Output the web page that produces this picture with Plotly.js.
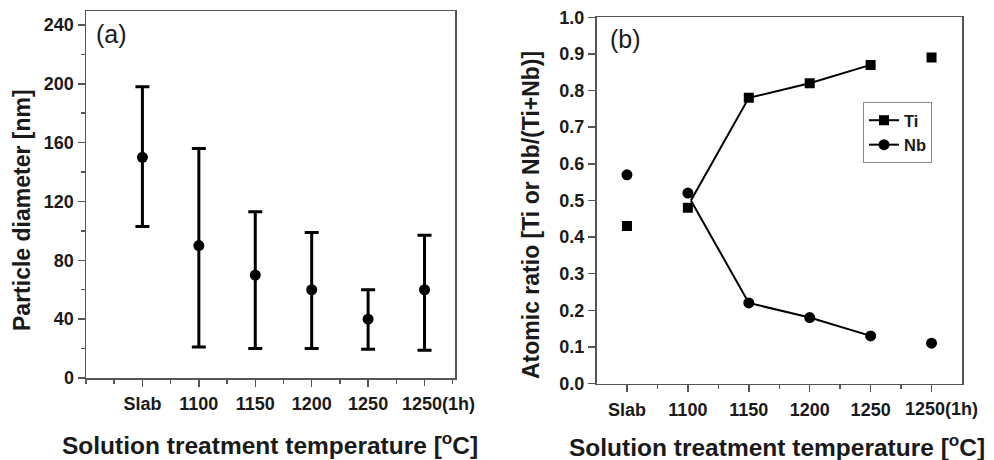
<!DOCTYPE html>
<html>
<head>
<meta charset="utf-8">
<script src="https://cdn.plot.ly/plotly-3.0.1.min.js"></script>
<style>html,body{margin:0;padding:0;background:#fff;}#chart{width:994px;height:460px;}</style>
</head>
<body>
<div id="chart"></div>
<script>
// Categories
var categories = ['Slab', '1100', '1150', '1200', '1250', '1250(1h)'];
var catPos = [1, 2, 3, 4, 5, 6];

// Panel (a): particle diameter [nm]
var diaMean  = [150, 90, 70, 60, 40, 60];
var diaUpper = [198, 156, 113, 99, 60, 97];
var diaLower = [103, 21, 20, 20, 19.5, 18.8];

// Panel (b): atomic ratio
var tiRatio = [0.43, 0.48, 0.78, 0.82, 0.87, 0.89];
var nbRatio = [0.57, 0.52, 0.22, 0.18, 0.13, 0.11];
// connecting lines (drawn from 1100 onwards, meeting near 0.5)
var lineX   = [2.05, 3, 4, 5];
var tiLineY = [0.50, 0.78, 0.82, 0.87];
var nbLineY = [0.50, 0.22, 0.18, 0.13];

var FONT = 'Liberation Sans, Arial, Helvetica, sans-serif';
var TXT = '#1a1a1a';
var AX = '#555555';
var W = 994, H = 460;

var errPlus = diaUpper.map(function(u, i){ return u - diaMean[i]; });
var errMinus = diaMean.map(function(m, i){ return m - diaLower[i]; });

var nCat = categories.length;
var firstPos = catPos.slice(0, nCat - 1), firstLab = categories.slice(0, nCat - 1);
var lastPos = catPos.slice(nCat - 1), lastLab = categories.slice(nCat - 1);

var traces = [
  {
    x: catPos, y: diaMean, xaxis: 'x', yaxis: 'y',
    type: 'scatter', mode: 'markers', showlegend: false,
    marker: {symbol: 'circle', size: 11, color: '#000'},
    error_y: {type: 'data', symmetric: false, array: errPlus, arrayminus: errMinus,
              color: '#000', thickness: 3, width: 7}
  },
  {
    x: lineX, y: tiLineY, xaxis: 'x2', yaxis: 'y2', type: 'scatter', mode: 'lines',
    showlegend: false, line: {color: '#000', width: 2}
  },
  {
    x: lineX, y: nbLineY, xaxis: 'x2', yaxis: 'y2', type: 'scatter', mode: 'lines',
    showlegend: false, line: {color: '#000', width: 2}
  },
  {
    x: catPos, y: tiRatio, xaxis: 'x2', yaxis: 'y2', type: 'scatter', mode: 'markers',
    showlegend: false, marker: {symbol: 'square', size: 10, color: '#000'}
  },
  {
    x: catPos, y: nbRatio, xaxis: 'x2', yaxis: 'y2', type: 'scatter', mode: 'markers',
    showlegend: false, marker: {symbol: 'circle', size: 11, color: '#000'}
  },
  {
    x: [null], y: [null], xaxis: 'x2', yaxis: 'y2', type: 'scatter', mode: 'lines+markers',
    name: 'Ti', line: {color: '#000', width: 2}, marker: {symbol: 'square', size: 10, color: '#000'}
  },
  {
    x: [null], y: [null], xaxis: 'x2', yaxis: 'y2', type: 'scatter', mode: 'lines+markers',
    name: 'Nb', line: {color: '#000', width: 2}, marker: {symbol: 'circle', size: 11, color: '#000'}
  },
  // carriers so the overlay label axes are drawn
  {
    x: lastPos, y: [null], xaxis: 'x3', yaxis: 'y', type: 'scatter', mode: 'markers',
    showlegend: false, hoverinfo: 'skip', marker: {opacity: 0}
  },
  {
    x: lastPos, y: [null], xaxis: 'x4', yaxis: 'y2', type: 'scatter', mode: 'markers',
    showlegend: false, hoverinfo: 'skip', marker: {opacity: 0}
  }
];

var tickFont = {family: FONT, size: 18, color: TXT, weight: 'bold'};
function xAxis(domain, range, majors, labels, minors, anchor) {
  return {
    domain: domain, range: range, anchor: anchor, tickmode: 'array',
    tickvals: majors, ticktext: labels, tickangle: 0,
    ticks: 'outside', ticklen: 7, tickwidth: 1.5, tickcolor: AX,
    showline: true, linecolor: AX, linewidth: 1.5, mirror: true, showgrid: false, zeroline: false,
    tickfont: tickFont, ticklabelstandoff: 2,
    minor: {tickmode: 'array', tickvals: minors, ticks: 'outside', ticklen: 4, tickwidth: 1.5, tickcolor: AX, showgrid: false}
  };
}
// overlay axis carrying only the last category label ("1250" over its tick, "(1h)" trailing)
function xOverlay(over, range, anchor, shift) {
  return {
    overlaying: over, anchor: anchor, side: 'bottom', range: range, autorange: false,
    tickmode: 'array', tickvals: lastPos, ticktext: lastLab, tickangle: 0,
    ticks: 'outside', ticklen: 7, tickwidth: 1.5, tickcolor: AX,
    showline: false, showgrid: false, zeroline: false, showticklabels: true,
    tickfont: tickFont, ticklabelstandoff: 2, ticklabelshift: shift
  };
}
function yAxis(domain, range, dtick, fmt, minorDtick, anchor) {
  var a = {
    domain: domain, range: range, anchor: anchor, tickmode: 'linear', tick0: 0, dtick: dtick,
    tickformat: fmt, ticks: 'outside', ticklen: 7, tickwidth: 1.5, tickcolor: AX,
    showline: true, linecolor: AX, linewidth: 1.5, mirror: true, showgrid: false, zeroline: false,
    tickfont: tickFont
  };
  if (minorDtick) {
    a.minor = {tickmode: 'linear', tick0: 0, dtick: minorDtick, ticks: 'outside', ticklen: 4, tickwidth: 1.5, tickcolor: AX, showgrid: false};
  }
  return a;
}

function px(x){ return x / W; }
function py(y){ return 1 - y / H; }

var xTitleFont = {family: FONT, size: 24.5, color: TXT, weight: 'bold'};
var yTitleFont = {family: FONT, size: 23, color: TXT, weight: 'bold'};
var xTitle = 'Solution treatment temperature [<sup>o</sup>C]';
var rangeA = [0, 6.54], rangeB = [0.5, 6.5];

var layout = {
  width: W, height: H,
  margin: {l: 0, r: 0, t: 0, b: 0},
  paper_bgcolor: '#fff', plot_bgcolor: '#fff',
  font: {family: FONT, color: TXT},
  xaxis: xAxis([px(86), px(455)], rangeA, firstPos, firstLab,
               [0, 0.5, 1.5, 2.5, 3.5, 4.5, 5.5, 6.5], 'y'),
  yaxis: yAxis([py(378), py(11)], [0, 249.5], 40, 'd', 20, 'x'),
  xaxis2: xAxis([px(596.5), px(962)], rangeB, firstPos, firstLab,
                [1.5, 2.5, 3.5, 4.5, 5.5], 'y2'),
  yaxis2: yAxis([py(383.5), py(17.3)], [0, 1], 0.1, '.1f', null, 'x2'),
  xaxis3: xOverlay('x', rangeA, 'y', 14),
  xaxis4: xOverlay('x2', rangeB, 'y2', 10),
  showlegend: true,
  legend: {
    x: px(863), y: py(102), xanchor: 'left', yanchor: 'top',
    bgcolor: '#fff', bordercolor: '#888', borderwidth: 1,
    font: {family: FONT, size: 16.5, color: TXT, weight: 'bold'},
    tracegroupgap: 0, itemwidth: 30
  },
  annotations: [
    {xref: 'paper', yref: 'paper', x: px(270), y: py(443), xanchor: 'center', yanchor: 'middle',
     text: xTitle, showarrow: false, font: xTitleFont},
    {xref: 'paper', yref: 'paper', x: px(22), y: py(210), xanchor: 'center', yanchor: 'middle',
     text: 'Particle diameter [nm]', textangle: -90, showarrow: false, font: yTitleFont},
    {xref: 'paper', yref: 'paper', x: px(777), y: py(445), xanchor: 'center', yanchor: 'middle',
     text: xTitle, showarrow: false, font: xTitleFont},
    {xref: 'paper', yref: 'paper', x: px(531), y: py(215), xanchor: 'center', yanchor: 'middle',
     text: 'Atomic ratio [Ti or Nb/(Ti+Nb)]', textangle: -90, showarrow: false, font: yTitleFont},
    {xref: 'paper', yref: 'paper', x: px(111), y: py(34), xanchor: 'center', yanchor: 'middle',
     text: '(a)', showarrow: false, font: {family: FONT, size: 25, color: TXT}},
    {xref: 'paper', yref: 'paper', x: px(625), y: py(39), xanchor: 'center', yanchor: 'middle',
     text: '(b)', showarrow: false, font: {family: FONT, size: 25, color: TXT}}
  ]
};

Plotly.newPlot('chart', traces, layout, {displayModeBar: false, staticPlot: true});
</script>
</body>
</html>
